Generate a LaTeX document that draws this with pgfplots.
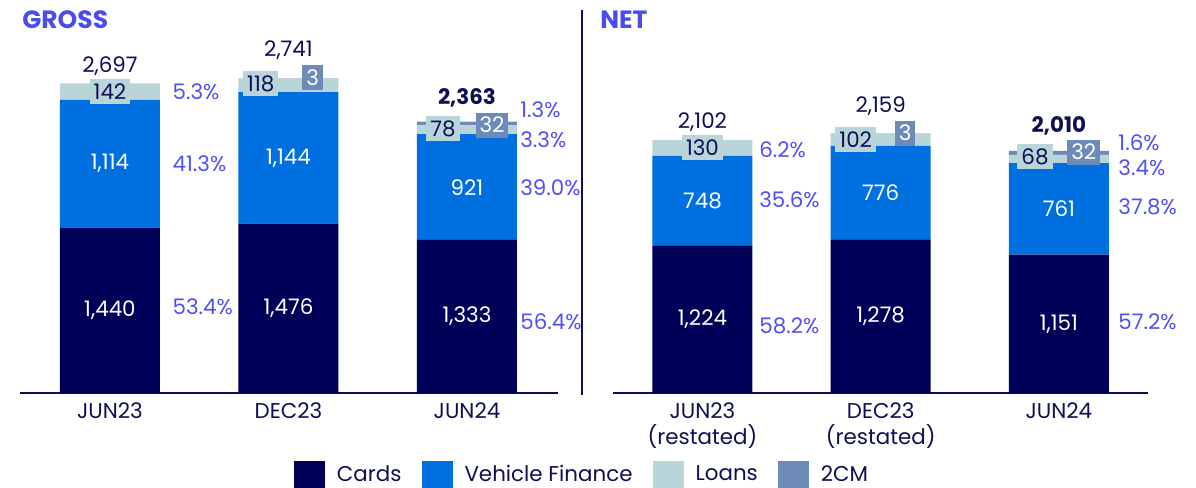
\documentclass[border=0pt]{standalone}
\usepackage{fontspec}
\setmainfont{Poppins}
\usepackage{pgfplots}
\pgfplotsset{compat=1.18}
\definecolor{cards}{RGB}{0,0,88}
\definecolor{vf}{RGB}{0,112,224}
\definecolor{loans}{RGB}{186,213,217}
\definecolor{twocm}{RGB}{110,139,184}
\definecolor{txt}{RGB}{15,15,85}
\definecolor{pct}{RGB}{80,80,245}
\definecolor{ttl}{RGB}{75,75,240}
\pgfplotsset{
 panel/.style={
  scale only axis, anchor=south west, ymin=0, clip=false,
  ybar stacked, bar width=50pt, height=191.5pt,
  axis x line=bottom, axis y line=none,
  x axis line style={-, draw=txt, line width=1pt},
  xtick={0,1,2}, xtick style={draw=none}, major tick length=0pt,
  xticklabel style={text=txt, align=center, font=\fontsize{10.7}{13}\selectfont, yshift=-1.5pt},
  ytick=\empty,
 },
}
\begin{document}
\begin{tikzpicture}[font=\fontsize{10.7}{13}\selectfont,
  wl/.style={text=white},
  lb/.style={fill=loans, text=txt, inner xsep=2pt, inner ysep=0pt, minimum height=12.5pt},
  cb/.style={fill=twocm, text=white, inner xsep=2pt, inner ysep=0pt, minimum height=12.5pt},
  tot/.style={text=txt},
  pc/.style={text=pct, anchor=west, inner sep=0pt}]
\useasboundingbox (0,0) rectangle (598pt,244pt);
% ---------------- GROSS ----------------
\begin{axis}[panel, at={(10pt,47.5pt)}, width=269pt, xmin=-0.504, xmax=2.51, ymax=3336,
  xticklabels={JUN23,DEC23,JUN24},
  legend columns=4,
  legend style={at={(1.0428,-0.2141)}, anchor=center, draw=none, fill=none,
    inner sep=0pt, nodes={inner sep=0pt, text=txt},
    /tikz/every odd column/.append style={column sep=6pt},
    /tikz/every even column/.append style={column sep=10pt}},
  legend image code/.code={\draw[#1, draw=none] (0pt,-6.75pt) rectangle (15.5pt,6.75pt);},
  ]
\addplot[fill=cards, draw=none] coordinates {(0,1440) (1,1476) (2,1333)};
\addplot[fill=vf, draw=none] coordinates {(0,1114) (1,1144) (2,921)};
\addplot[fill=loans, draw=none] coordinates {(0,142) (1,118) (2,78)};
\addplot[fill=twocm, draw=none] coordinates {(0,0) (1,3) (2,32)};
\legend{Cards,Vehicle Finance,Loans,2CM}
\coordinate (a1) at (axis cs:0,720);
\coordinate (a2) at (axis cs:0,1997);
\coordinate (a3) at (axis cs:0,2625);
\coordinate (a4) at (axis cs:0,2850);
\coordinate (a5) at (axis cs:0.349,2625);
\coordinate (a6) at (axis cs:0.349,1997);
\coordinate (a7) at (axis cs:0.349,749);
\coordinate (b1) at (axis cs:1,738);
\coordinate (b2) at (axis cs:1,2048);
\coordinate (b3) at (axis cs:0.845,2692);
\coordinate (b4) at (axis cs:1.136,2744);
\coordinate (b5) at (axis cs:1,2990);
\coordinate (c1) at (axis cs:2,666);
\coordinate (c2) at (axis cs:2,1793);
\coordinate (c3) at (axis cs:1.866,2300);
\coordinate (c4) at (axis cs:2.14,2334);
\coordinate (c5) at (axis cs:2,2571);
\coordinate (c6) at (axis cs:2.297,2465);
\coordinate (c7) at (axis cs:2.297,2204);
\coordinate (c8) at (axis cs:2.297,1786);
\coordinate (c9) at (axis cs:2.297,618);
\end{axis}
\node[wl] at (a1) {1,440};
\node[wl] at (a2) {1,114};
\node[lb] at (a3) {142};
\node[tot] at (a4) {2,697};
\node[pc] at (a5) {5.3\%};
\node[pc] at (a6) {41.3\%};
\node[pc] at (a7) {53.4\%};
\node[wl] at (b1) {1,476};
\node[wl] at (b2) {1,144};
\node[lb] at (b3) {118};
\node[cb] at (b4) {3};
\node[tot] at (b5) {2,741};
\node[wl] at (c1) {1,333};
\node[wl] at (c2) {921};
\node[lb] at (c3) {78};
\node[cb] at (c4) {32};
\node[tot, font=\fontsize{10.7}{13}\selectfont\bfseries] at (c5) {2,363};
\node[pc] at (c6) {1.3\%};
\node[pc] at (c7) {3.3\%};
\node[pc] at (c8) {39.0\%};
\node[pc] at (c9) {56.4\%};
% ---------------- NET ----------------
\begin{axis}[panel, at={(306.5pt,47.5pt)}, width=267.5pt, xmin=-0.502, xmax=2.50, ymax=3184,
  xticklabels={{JUN23\\(restated)},{DEC23\\(restated)},JUN24}]
\addplot[fill=cards, draw=none] coordinates {(0,1224) (1,1278) (2,1151)};
\addplot[fill=vf, draw=none] coordinates {(0,748) (1,776) (2,761)};
\addplot[fill=loans, draw=none] coordinates {(0,130) (1,102) (2,68)};
\addplot[fill=twocm, draw=none] coordinates {(0,0) (1,3) (2,32)};
\coordinate (d1) at (axis cs:0,612);
\coordinate (d2) at (axis cs:0,1598);
\coordinate (d3) at (axis cs:0,2037);
\coordinate (d4) at (axis cs:0,2255);
\coordinate (d5) at (axis cs:0.317,2020);
\coordinate (d6) at (axis cs:0.317,1604);
\coordinate (d7) at (axis cs:0.317,557);
\coordinate (e1) at (axis cs:1,639);
\coordinate (e2) at (axis cs:1,1666);
\coordinate (e3) at (axis cs:0.86,2107);
\coordinate (e4) at (axis cs:1.137,2161);
\coordinate (e5) at (axis cs:1,2388);
\coordinate (f1) at (axis cs:2,575);
\coordinate (f2) at (axis cs:2,1531);
\coordinate (f3) at (axis cs:1.866,1962);
\coordinate (f4) at (axis cs:2.14,2003);
\coordinate (f5) at (axis cs:2,2222);
\coordinate (f6) at (axis cs:2.332,2078);
\coordinate (f7) at (axis cs:2.332,1870);
\coordinate (f8) at (axis cs:2.332,1546);
\coordinate (f9) at (axis cs:2.332,590);
\end{axis}
\node[wl] at (d1) {1,224};
\node[wl] at (d2) {748};
\node[lb] at (d3) {130};
\node[tot] at (d4) {2,102};
\node[pc] at (d5) {6.2\%};
\node[pc] at (d6) {35.6\%};
\node[pc] at (d7) {58.2\%};
\node[wl] at (e1) {1,278};
\node[wl] at (e2) {776};
\node[lb] at (e3) {102};
\node[cb] at (e4) {3};
\node[tot] at (e5) {2,159};
\node[wl] at (f1) {1,151};
\node[wl] at (f2) {761};
\node[lb] at (f3) {68};
\node[cb] at (f4) {32};
\node[tot, font=\fontsize{10.7}{13}\selectfont\bfseries] at (f5) {2,010};
\node[pc] at (f6) {1.6\%};
\node[pc] at (f7) {3.4\%};
\node[pc] at (f8) {37.8\%};
\node[pc] at (f9) {57.2\%};
% separator and titles
\draw[txt, line width=0.75pt] (291pt,239pt) -- (291pt,46.5pt);
\node[anchor=west, inner sep=0pt, text=ttl, font=\fontsize{12.5}{15}\selectfont\bfseries] at (11pt,234pt) {GROSS};
\node[anchor=west, inner sep=0pt, text=ttl, font=\fontsize{12.5}{15}\selectfont\bfseries] at (300pt,234pt) {NET};
\end{tikzpicture}
\end{document}
